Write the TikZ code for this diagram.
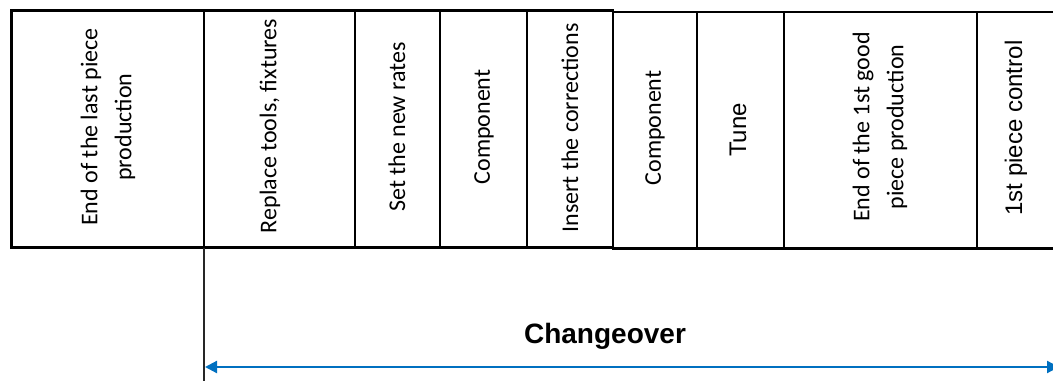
\documentclass[tikz,border=0pt]{standalone}
\usepackage{fontspec}
\setmainfont{Liberation Sans}
\newfontfamily\calfont{Carlito}
\usetikzlibrary{arrows.meta}
\definecolor{arrowblue}{HTML}{0070C0}
\begin{document}
\begin{tikzpicture}[x=1pt,y=-1pt,
  box/.style={draw=black, line width=2.5pt, rotate=90, inner sep=0pt, outer sep=0pt, anchor=center},
  calt/.style={rotate=90, align=center, inner sep=0pt, anchor=center, font=\calfont\fontsize{24}{34}\selectfont},
  arit/.style={rotate=90, align=center, inner sep=0pt, anchor=center, font=\fontsize{24}{34}\selectfont},
  guide/.style={line width=1.3pt, draw=black!85},
  span/.style={line width=2.2pt, draw=arrowblue, {Triangle[length=12pt,width=12pt]}-{Triangle[length=12pt,width=12pt]}}]
\useasboundingbox (0,0) rectangle (1053,381);
% boxes (minimum width = vertical size on the page, minimum height = horizontal size)
\node[box, minimum width=237pt, minimum height=192.5pt] (b1) at (107.75,129) {};
\node[box, minimum width=237pt, minimum height=151pt]   (b2) at (279.5,129) {};
\node[box, minimum width=237pt, minimum height=85pt]    (b3) at (397.5,129) {};
\node[box, minimum width=237pt, minimum height=87pt]    (b4) at (483.5,129) {};
\node[box, minimum width=237pt, minimum height=86pt]    (b5) at (570,129) {};
\node[box, minimum width=236.5pt, minimum height=84pt]  (b6) at (655,130.25) {};
\node[box, minimum width=236.5pt, minimum height=87pt]  (b7) at (740.5,130.25) {};
\node[box, minimum width=236.5pt, minimum height=193pt] (b8) at (880.5,130.25) {};
\node[box, minimum width=236.5pt, minimum height=80pt]  (b9) at (1017,130.25) {};
% texts
\node[calt] (t1) at (108,127) {End of the last piece\\production};
\node[calt] (t2) at (270,126) {Replace tools, fixtures};
\node[calt] (t3) at (397,127) {Set the new rates};
\node[calt] (t4) at (484,127) {Component};
\node[calt] (t5) at (570,128) {Insert the corrections};
\node[calt] (t6) at (655,128) {Component};
\node[arit] (t7) at (738,130) {Tune};
\node[calt] (t8) at (880,127) {End of the 1st good\\piece production};
\node[arit] (t9) at (1016,128) {1st piece control};
% changeover marker
\coordinate (vb) at (204,381);
\draw[guide] (b2.north west) -- (vb);
\coordinate (al) at (205,367);
\coordinate (ar) at (1059,367);
\draw[span] (al) -- (ar);
\node[font=\bfseries\fontsize{28}{32}\selectfont, inner sep=0pt] (chg) at (605,336) {Changeover};
\end{tikzpicture}
\end{document}
